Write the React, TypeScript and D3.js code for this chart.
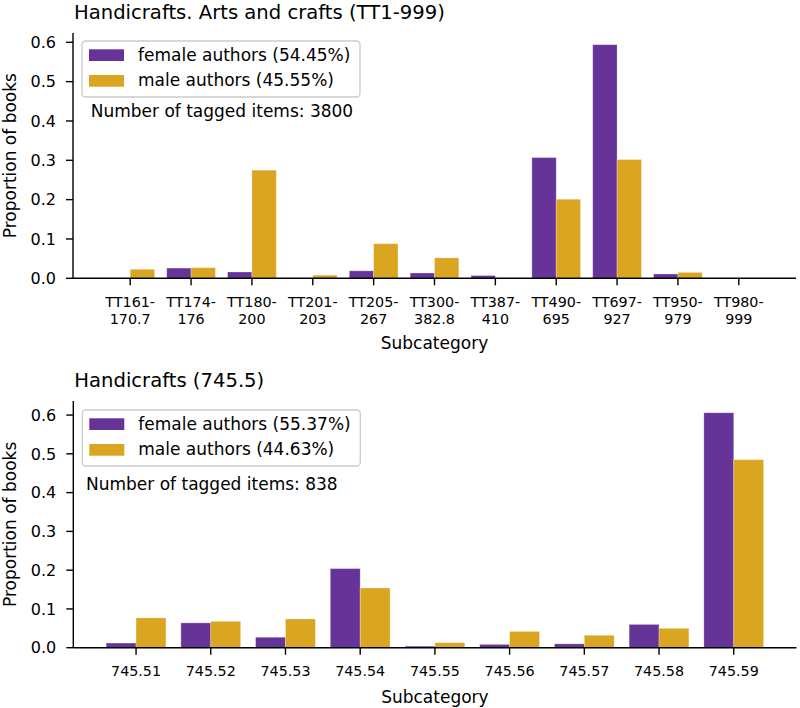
import React from "react";
import * as d3 from "d3";

// Panel 1: Handicrafts. Arts and crafts (TT1-999)
const artsCategories = [
  ["TT161-", "170.7"],
  ["TT174-", "176"],
  ["TT180-", "200"],
  ["TT201-", "203"],
  ["TT205-", "267"],
  ["TT300-", "382.8"],
  ["TT387-", "410"],
  ["TT490-", "695"],
  ["TT697-", "927"],
  ["TT950-", "979"],
  ["TT980-", "999"],
];
const artsFemale = [0, 0.026, 0.016, 0, 0.019, 0.0135, 0.007, 0.307, 0.594, 0.011, 0];
const artsMale = [0.023, 0.027, 0.275, 0.008, 0.088, 0.052, 0, 0.201, 0.302, 0.015, 0];

// Panel 2: Handicrafts (745.5)
const handiCategories = [
  ["745.51"],
  ["745.52"],
  ["745.53"],
  ["745.54"],
  ["745.55"],
  ["745.56"],
  ["745.57"],
  ["745.58"],
  ["745.59"],
];
const handiFemale = [0.012, 0.064, 0.027, 0.204, 0.004, 0.0085, 0.01, 0.06, 0.606];
const handiMale = [0.077, 0.068, 0.074, 0.154, 0.013, 0.042, 0.032, 0.05, 0.485];

const yTickValues = [0, 0.1, 0.2, 0.3, 0.4, 0.5, 0.6];

const FEMALE = "#663399";
const MALE = "#DAA520";
const FONT = "DejaVu Sans, sans-serif";

type PanelProps = {
  title: string;
  categories: string[][];
  female: number[];
  male: number[];
  femaleLabel: string;
  maleLabel: string;
  count: string;
  top: number;
  bottom: number;
  left: number;
  right: number;
  legendTop: number;
  countX: number;
  countY: number;
};

function Panel(p: PanelProps) {
  const n = p.categories.length;
  const barW = 0.4;
  const lo = -barW;
  const hi = n - 1 + barW;
  const pad = (hi - lo) * 0.05;
  const x = d3.scaleLinear().domain([lo - pad, hi + pad]).range([p.left, p.right]);
  const yMax = d3.max([...p.female, ...p.male]) as number;
  const y = d3.scaleLinear().domain([0, yMax * 1.05]).range([p.bottom, p.top]);
  const fmt = d3.format(".1f");
  const multiLine = p.categories[0].length > 1;
  const legendLeft = p.left + 9;
  const lt = p.legendTop;

  return (
    <g fontFamily={FONT}>
      <text x={p.left + 1} y={p.top - 14.5} fontSize={19.6} fill="#000">
        {p.title}
      </text>

      {p.female.map((v, i) => (
        <rect
          key={"f" + i}
          x={x(i - barW)}
          y={y(v)}
          width={x(i) - x(i - barW)}
          height={y(0) - y(v)}
          fill={FEMALE}
          stroke="#ffffff"
          strokeOpacity={v > 0 ? 0.35 : 0}
          strokeWidth={0.8}
        />
      ))}
      {p.male.map((v, i) => (
        <rect
          key={"m" + i}
          x={x(i)}
          y={y(v)}
          width={x(i + barW) - x(i)}
          height={y(0) - y(v)}
          fill={MALE}
          stroke="#ffffff"
          strokeOpacity={v > 0 ? 0.35 : 0}
          strokeWidth={0.8}
        />
      ))}

      {/* spines */}
      <line x1={p.left} x2={p.left} y1={p.top} y2={p.bottom} stroke="#000" strokeWidth={1.4} />
      <line x1={p.left} x2={p.right} y1={p.bottom} y2={p.bottom} stroke="#000" strokeWidth={1.4} />

      {/* y ticks */}
      {yTickValues.map((t) => (
        <g key={"y" + t}>
          <line x1={p.left - 7} x2={p.left} y1={y(t)} y2={y(t)} stroke="#000" strokeWidth={1.4} />
          <text x={p.left - 17} y={y(t)} dy="0.36em" fontSize={16} textAnchor="end" fill="#000">
            {fmt(t)}
          </text>
        </g>
      ))}

      {/* x ticks */}
      {p.categories.map((lines, i) => (
        <g key={"x" + i}>
          <line x1={x(i)} x2={x(i)} y1={p.bottom} y2={p.bottom + 7} stroke="#000" strokeWidth={1.4} />
          {lines.map((s, j) => (
            <text
              key={j}
              x={x(i)}
              y={p.bottom + 28.7 + j * 16.7}
              fontSize={14.3}
              textAnchor="middle"
              fill="#000"
            >
              {s}
            </text>
          ))}
        </g>
      ))}

      {/* axis labels */}
      <text
        x={(p.left + p.right) / 2}
        y={p.bottom + (multiLine ? 70.5 : 55.6)}
        fontSize={17}
        textAnchor="middle"
        fill="#000"
      >
        Subcategory
      </text>
      <text
        transform={`translate(15.7,${(p.top + p.bottom) / 2}) rotate(-90)`}
        fontSize={17}
        textAnchor="middle"
        fill="#000"
      >
        Proportion of books
      </text>

      {/* legend */}
      <rect
        x={legendLeft}
        y={lt}
        width={278}
        height={56}
        rx={3.5}
        fill="#ffffff"
        fillOpacity={0.8}
        stroke="#cccccc"
        strokeWidth={1.3}
      />
      <rect x={legendLeft + 7} y={lt + 8.3} width={35} height={11.7} fill={FEMALE} />
      <rect x={legendLeft + 7} y={lt + 34} width={35} height={11.7} fill={MALE} />
      <text x={legendLeft + 56} y={lt + 20} fontSize={17} fill="#000">
        {p.femaleLabel}
      </text>
      <text x={legendLeft + 56} y={lt + 44.5} fontSize={17} fill="#000">
        {p.maleLabel}
      </text>
      <text x={p.countX} y={p.countY} fontSize={17} fill="#000">
        {p.count}
      </text>
    </g>
  );
}

export default function App() {
  return (
    <svg
      width={800}
      height={708}
      style={{ position: "absolute", left: 0, top: 0, background: "#fff" }}
    >
      <rect width={800} height={708} fill="#fff" />
      <Panel
        title="Handicrafts. Arts and crafts (TT1-999)"
        categories={artsCategories}
        female={artsFemale}
        male={artsMale}
        femaleLabel="female authors (54.45%)"
        maleLabel="male authors (45.55%)"
        count="Number of tagged items: 3800"
        top={33}
        bottom={278.3}
        left={73}
        right={796}
        legendTop={41}
        countX={90.7}
        countY={117.3}
      />
      <Panel
        title="Handicrafts (745.5)"
        categories={handiCategories}
        female={handiFemale}
        male={handiMale}
        femaleLabel="female authors (55.37%)"
        maleLabel="male authors (44.63%)"
        count="Number of tagged items: 838"
        top={401}
        bottom={647.7}
        left={73.3}
        right={796.5}
        legendTop={410}
        countX={86}
        countY={490}
      />
    </svg>
  );
}
